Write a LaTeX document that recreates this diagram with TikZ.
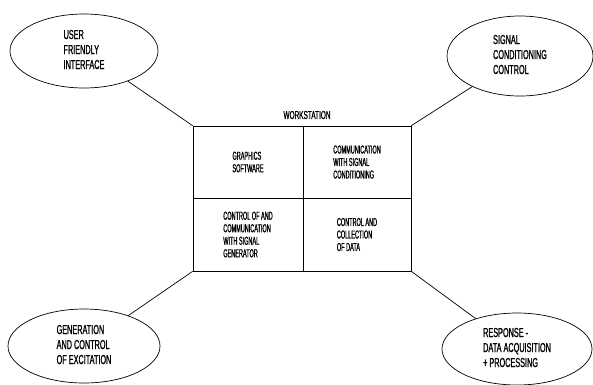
\documentclass[tikz,border=0pt]{standalone}
\usepackage{fontspec}
\setmainfont{Liberation Sans}
\newfontfamily\boxfont[FakeStretch=0.48,FakeBold=1]{Liberation Sans}
\newfontfamily\ellfont[FakeStretch=0.56,FakeBold=1]{Liberation Sans}
\usetikzlibrary{shapes.geometric}
\newcommand{\lines}[1]{\begin{tabular}{@{}l@{}}#1\end{tabular}}
\begin{document}
\begin{tikzpicture}[x=1pt,y=-1pt,line width=0.7pt,
  bubble/.style={draw,ellipse,inner sep=0pt,
    font=\ellfont\fontsize{13}{15}\selectfont},
  cell/.style={draw,rectangle,inner sep=0pt,align=left,
    minimum width=110pt,minimum height=72pt,
    font=\boxfont\fontsize{11.5}{12.5}\selectfont}]
\useasboundingbox (0,0) rectangle (593,384);
% workstation cells
\node[cell,minimum width=110pt] (gs) at (248,162) {GRAPHICS\\SOFTWARE};
\node[cell,minimum width=108pt] (cs) at (357,162) {COMMUNICATION\\WITH SIGNAL\\CONDITIONING};
\node[cell,minimum width=110pt,minimum height=73pt] (cg) at (248,234.5) {CONTROL OF AND\\COMMUNICATION\\WITH SIGNAL\\GENERATOR};
\node[cell,minimum width=108pt,minimum height=73pt] (cd) at (357,234.5) {CONTROL AND\\COLLECTION\\OF DATA};
\node[font=\ellfont\fontsize{11.5}{12}\selectfont] (ws) at (307,115) {WORKSTATION};
% ellipses
\node[bubble,minimum width=148pt,minimum height=74pt] (uf) at (84,51) {\lines{USER\\FRIENDLY\\INTERFACE}};
\node[bubble,minimum width=146pt,minimum height=80pt] (sc) at (520,56) {\lines{SIGNAL\\CONDITIONING\\CONTROL}};
\node[bubble,minimum width=152pt,minimum height=74pt] (ge) at (84,346) {\lines{GENERATION\\AND CONTROL\\OF EXCITATION}};
\node[bubble,minimum width=150pt,minimum height=72pt] (rd) at (517,349) {\lines{RESPONSE -\\DATA ACQUISITION\\+ PROCESSING}};
% connectors
\draw (uf) -- (gs.north west);
\draw (sc) -- (cs.north east);
\draw (ge) -- (cg.south west);
\draw (rd) -- (cd.south east);
\end{tikzpicture}
\end{document}
